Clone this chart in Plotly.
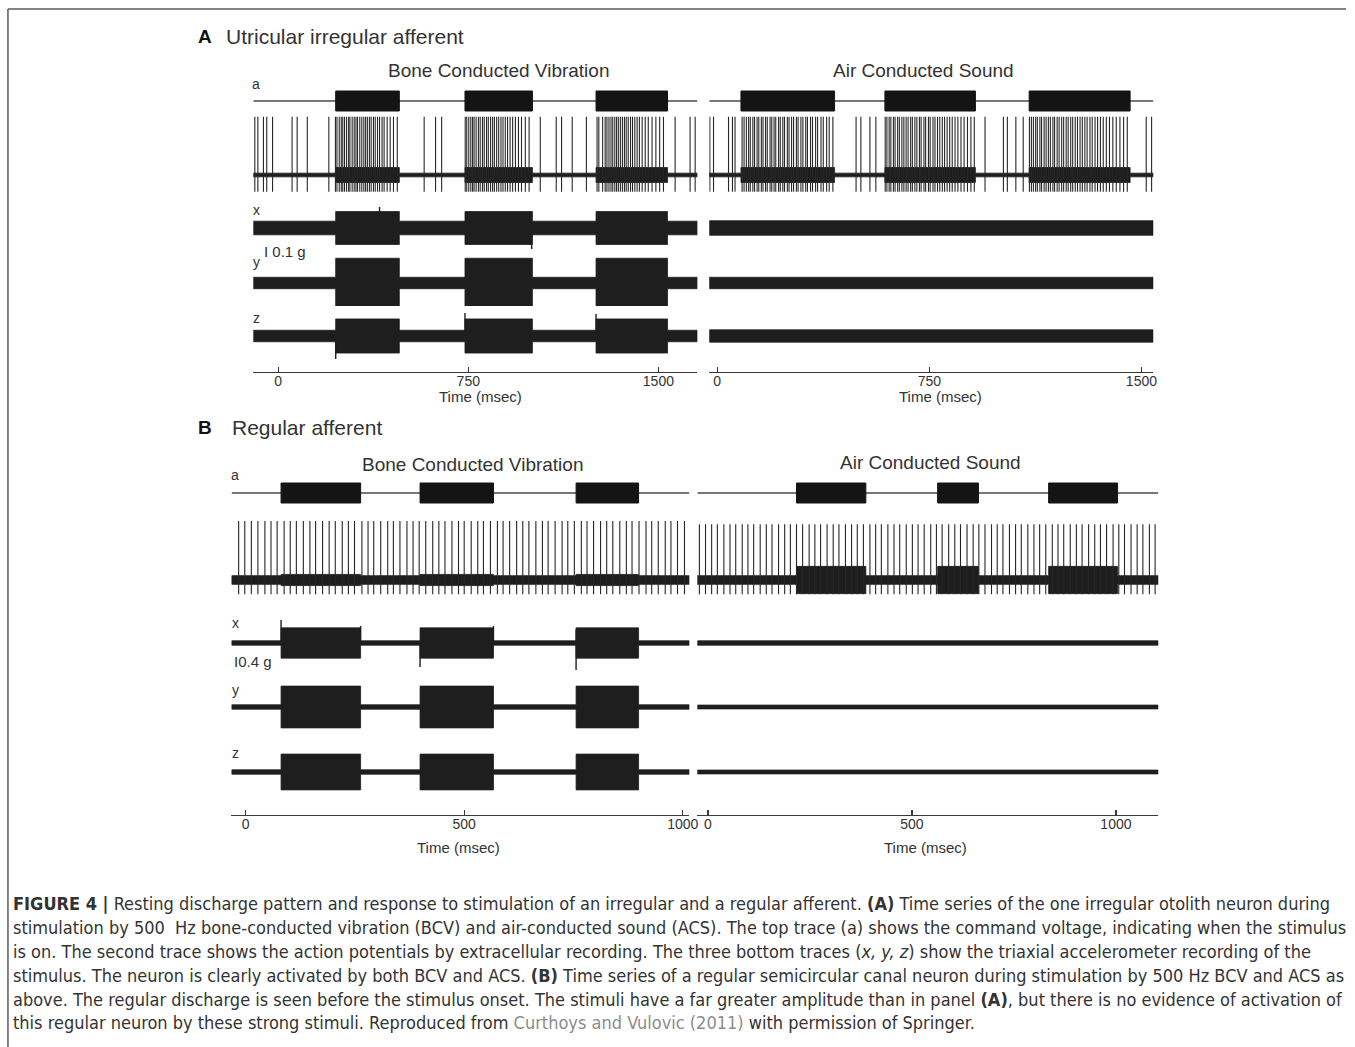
import plotly.graph_objects as go

W, H = 1355, 1047

# ------------------------------------------------------------------ data
# recording windows (ms) shown in each panel
A_BCV_WINDOW = (-98, 1654)
A_ACS_WINDOW = (-28, 1542)
B_BCV_WINDOW = (-32, 1015)
B_ACS_WINDOW = (-26, 1104)

# stimulus on/off times (ms) from the command trace (a)
A_BCV_STIM = [(227, 478), (737, 1003), (1254, 1536)]
A_ACS_STIM = [(84, 415), (593, 913), (1103, 1460)]
B_BCV_STIM = [(81, 263), (399, 567), (756, 899)]
B_ACS_STIM = [(217, 387), (563, 663), (835, 1004)]

# spike times (ms)
A_BCV_SPIKES = [-92, -80, -58, -45, -22, 55, 75, 115, 200,
                226, 232, 241, 249, 255, 262, 270, 278, 283, 292, 300, 307, 313, 322, 330,
                338, 345, 352, 360, 367, 376, 383, 392, 400, 410, 418, 430, 442, 455, 470,
                576, 621, 645,
                738, 744, 752, 760, 767, 773, 781, 790, 797, 806, 813, 822, 829, 838, 846,
                853, 862, 870, 879, 887, 896, 905, 915, 925, 936, 948, 960, 975, 990,
                1034, 1097, 1118, 1160, 1216,
                1258, 1265, 1280, 1290, 1297, 1305, 1313, 1320, 1328, 1335, 1342, 1350,
                1358, 1366, 1373, 1381, 1390, 1398, 1407, 1416, 1425, 1436, 1448, 1460,
                1475, 1490, 1505, 1520,
                1566, 1625, 1645]
A_ACS_SPIKES = [-26, -13, 40, 54, 63,
                88, 95, 103, 111, 117, 126, 132, 141, 147, 156, 162, 171, 177, 187, 193,
                201, 207, 217, 223, 232, 238, 248, 254, 263, 270, 280, 286, 296, 303, 313,
                319, 330, 337, 348, 355, 367, 375, 387, 396, 409,
                491, 508, 540, 561,
                594, 600, 608, 614, 623, 629, 638, 644, 653, 660, 668, 675, 684, 690, 699,
                706, 715, 721, 731, 737, 747, 753, 763, 770, 779, 787, 796, 804, 813, 822,
                831, 841, 851, 862, 873, 885, 897, 909,
                947, 1012, 1026, 1056, 1082,
                1104, 1111, 1118, 1126, 1132, 1141, 1147, 1156, 1163, 1171, 1178, 1187,
                1193, 1202, 1209, 1218, 1225, 1234, 1241, 1250, 1257, 1266, 1274, 1283,
                1291, 1300, 1308, 1318, 1326, 1336, 1345, 1355, 1365, 1376, 1387, 1399,
                1411, 1424, 1437, 1450,
                1517, 1536]
B_BCV_SPIKES = [-16, -2, 13, 28, 44, 58, 72, 88, 102, 116, 132, 147, 160, 176, 191, 205,
                221, 235, 249, 266, 280, 293, 309, 325, 338, 353, 369, 383, 397, 412, 428,
                442, 456, 472, 487, 500, 516, 531, 544, 560, 576, 589, 604, 620, 634, 648,
                664, 679, 692, 708, 724, 737, 752, 768, 781, 796, 812, 826, 840, 856, 871,
                884, 900, 916, 929, 944, 960, 973, 988, 1004]
B_ACS_SPIKES = [-21, -6, 9, 23, 39, 54, 68, 84, 98, 112, 128, 143, 157, 173, 188, 202,
                217, 232, 248, 262, 276, 292, 307, 321, 337, 352, 366, 381, 397, 411, 425,
                441, 456, 470, 486, 501, 515, 530, 546, 560, 574, 590, 605, 619, 635, 650,
                664, 679, 695, 709, 723, 739, 754, 768, 784, 799, 813, 828, 844, 858, 872,
                888, 903, 917, 933, 948, 962, 977, 993, 1007, 1021, 1037, 1052, 1066, 1082,
                1096]

# extracellular noise half-width (recording units), off / on stimulus
A_BCV_NOISE = (0.03, 0.12)
A_ACS_NOISE = (0.03, 0.12)
B_BCV_NOISE = (0.07, 0.09)
B_ACS_NOISE = (0.07, 0.22)

# accelerometer half-amplitude (g) for x, y, z
A_BCV_ACC_OFF = [0.062, 0.052, 0.052]
A_BCV_ACC_ON = [0.150, 0.225, 0.155]
A_ACS_ACC_OFF = [0.066, 0.052, 0.056]
A_ACS_ACC_ON = [0.066, 0.052, 0.056]
B_BCV_ACC_OFF = [0.08, 0.08, 0.08]
B_BCV_ACC_ON = [0.55, 0.76, 0.65]
B_ACS_ACC_OFF = [0.08, 0.07, 0.07]
B_ACS_ACC_ON = [0.08, 0.07, 0.07]

# accelerometer onset/offset transients (ms, g) per axis x, y, z
A_BCV_TRANSIENTS = [[(400, 0.19), (1000, -0.19)], [], [(227, -0.21), (737, 0.21), (1254, 0.20)]]
B_BCV_TRANSIENTS = [[(81, 0.84), (263, 0.62), (399, -0.87), (567, 0.62), (756, -0.98), (756, 0.5)],
                    [], []]
NO_TRANSIENTS = [[], [], []]

TICKS_A = [0, 750, 1500]
TICKS_B = [0, 500, 1000]
ROW_LABELS = ["a", "x", "y", "z"]

# ------------------------------------------------------------------ layout helpers
INK = "#1e1e1e"
TXT = "#333333"
FONT = "Liberation Sans, Arial, sans-serif"
CAPFONT = "DejaVu Sans Condensed, Liberation Sans Narrow, sans-serif"


def fx(p):
    return p / W


def fy(p):
    return 1 - p / H


panels = [
    dict(xpx=(255, 702), zero=280.0, pxms=0.2552, win=A_BCV_WINDOW, stim=A_BCV_STIM,
         spikes=A_BCV_SPIKES, noise=A_BCV_NOISE, off=A_BCV_ACC_OFF, on=A_BCV_ACC_ON,
         trans=A_BCV_TRANSIENTS,
         rows=[101, 175, 228, 283, 336], axis=372, ticks=TICKS_A, gpx=110.0,
         spk=(0.94, -0.27), title="Bone Conducted Vibration", tx=502, ty=71,
         ttl_ms=799, ttl_y=396, lab_x=258, lab_y=[84, 210, 262, 318]),
    dict(xpx=(714, 1161), zero=722.0, pxms=0.2847, win=A_ACS_WINDOW, stim=A_ACS_STIM,
         spikes=A_ACS_SPIKES, noise=A_ACS_NOISE, off=A_ACS_ACC_OFF, on=A_ACS_ACC_ON,
         trans=NO_TRANSIENTS,
         rows=[101, 175, 228, 283, 336], axis=372, ticks=TICKS_A, gpx=110.0,
         spk=(0.94, -0.27), title="Air Conducted Sound", tx=930, ty=71,
         ttl_ms=789, ttl_y=396, lab_x=None, lab_y=None),
    dict(xpx=(233, 694), zero=247.3, pxms=0.44, win=B_BCV_WINDOW, stim=B_BCV_STIM,
         spikes=B_BCV_SPIKES, noise=B_BCV_NOISE, off=B_BCV_ACC_OFF, on=B_BCV_ACC_ON,
         trans=B_BCV_TRANSIENTS,
         rows=[493, 580, 643, 707, 772], axis=815, ticks=TICKS_B, gpx=27.5,
         spk=(0.95, -0.23), title="Bone Conducted Vibration", tx=476, ty=464,
         ttl_ms=488, ttl_y=847, lab_x=237, lab_y=[475, 623, 690, 753]),
    dict(xpx=(702, 1166), zero=712.7, pxms=0.4107, win=B_ACS_WINDOW, stim=B_ACS_STIM,
         spikes=B_ACS_SPIKES, noise=B_ACS_NOISE, off=B_ACS_ACC_OFF, on=B_ACS_ACC_ON,
         trans=NO_TRANSIENTS,
         rows=[493, 580, 643, 707, 772], axis=815, ticks=TICKS_B, gpx=27.5,
         spk=(0.90, -0.23), title="Air Conducted Sound", tx=937, ty=463,
         ttl_ms=533, ttl_y=847, lab_x=None, lab_y=None),
]

CMD_HALF = 12.0     # px half height of command row
SPK_HALF = 62.0     # px half height of spike row
ACC_HALF = 30.0     # px half height of accelerometer rows


def band(t0, t1, stim, off, on):
    xs, ys = [t0], [off]
    for a, b in stim:
        xs += [a, a, b, b]
        ys += [off, on, on, off]
    xs.append(t1)
    ys.append(off)
    X = xs + xs[::-1] + [xs[0]]
    Y = ys + [-v for v in ys[::-1]] + [ys[0]]
    return X, Y


fig = go.Figure()
layout = dict()
annotations = []
yk = 0

for i, p in enumerate(panels):
    xid = "x" if i == 0 else f"x{i + 1}"
    xkey = "xaxis" if i == 0 else f"xaxis{i + 1}"
    x0px, x1px = p["xpx"]
    t0, t1 = p["win"]
    layout[xkey] = dict(
        domain=[fx(x0px), fx(x1px)],
        range=[(x0px - p["zero"]) / p["pxms"], (x1px - p["zero"]) / p["pxms"]],
        anchor="free", position=fy(p["axis"]),
        showline=True, linecolor="#3a3a3a", linewidth=1.3,
        ticks="inside", ticklen=5, tickwidth=1.2, tickcolor="#3a3a3a",
        tickvals=p["ticks"], ticktext=[str(t) for t in p["ticks"]],
        tickfont=dict(family=FONT, size=14, color=TXT), ticklabelstandoff=-4,
        showgrid=False, zeroline=False, fixedrange=True,
    )
    annotations.append(dict(text="Time (msec)", x=p["ttl_ms"], xref=xid, y=fy(p["ttl_y"]),
                            yref="paper", showarrow=False, xanchor="center",
                            yanchor="middle", font=dict(family=FONT, size=15, color=TXT)))
    annotations.append(dict(text=p["title"], x=fx(p["tx"]), y=fy(p["ty"]), xref="paper",
                            yref="paper", showarrow=False, xanchor="center",
                            yanchor="middle", font=dict(family=FONT, size=19, color=TXT)))

    for r, base in enumerate(p["rows"]):
        yk += 1
        yid = "y" if yk == 1 else f"y{yk}"
        ykey = "yaxis" if yk == 1 else f"yaxis{yk}"
        if r == 0:
            half, unit = CMD_HALF, 10.0
        elif r == 1:
            half, unit = SPK_HALF, SPK_HALF
        else:
            half, unit = ACC_HALF, p["gpx"]
        layout[ykey] = dict(domain=[fy(base + half), fy(base - half)],
                            range=[-half / unit, half / unit], anchor=xid,
                            visible=False, fixedrange=True)

        if r == 0:
            fig.add_trace(go.Scatter(x=[t0, t1], y=[0, 0], mode="lines",
                                     line=dict(color="#4a4a4a", width=1.4),
                                     xaxis=xid, yaxis=yid, hoverinfo="skip"))
            bx, by = [], []
            for a, b in p["stim"]:
                bx += [a, a, b, b, a, None]
                by += [-1, 1, 1, -1, -1, None]
            fig.add_trace(go.Scatter(x=bx, y=by, mode="lines", fill="toself",
                                     fillcolor="#141414", line=dict(color="#141414", width=1),
                                     xaxis=xid, yaxis=yid, hoverinfo="skip"))
        elif r == 1:
            X, Y = band(t0, t1, p["stim"], p["noise"][0], p["noise"][1])
            fig.add_trace(go.Scatter(x=X, y=Y, mode="lines", fill="toself",
                                     fillcolor=INK, line=dict(color=INK, width=0.8),
                                     xaxis=xid, yaxis=yid, hoverinfo="skip"))
            sx, sy = [], []
            up, down = p["spk"]
            for t in p["spikes"]:
                sx += [t, t, None]
                sy += [down, up, None]
            fig.add_trace(go.Scatter(x=sx, y=sy, mode="lines",
                                     line=dict(color="#262626", width=1.1),
                                     xaxis=xid, yaxis=yid, hoverinfo="skip"))
        else:
            k = r - 2
            X, Y = band(t0, t1, p["stim"], p["off"][k], p["on"][k])
            fig.add_trace(go.Scatter(x=X, y=Y, mode="lines", fill="toself",
                                     fillcolor=INK, line=dict(color=INK, width=0.8),
                                     xaxis=xid, yaxis=yid, hoverinfo="skip"))
            tr = p["trans"][k]
            if tr:
                tx_, ty_ = [], []
                for t, a in tr:
                    tx_ += [t, t, None]
                    ty_ += [0, a, None]
                fig.add_trace(go.Scatter(x=tx_, y=ty_, mode="lines",
                                         line=dict(color=INK, width=1.4),
                                         xaxis=xid, yaxis=yid, hoverinfo="skip"))

    if p["lab_x"] is not None:
        for lab, ly in zip(ROW_LABELS, p["lab_y"]):
            annotations.append(dict(text=lab, x=fx(p["lab_x"]), y=fy(ly), xref="paper",
                                    yref="paper", showarrow=False, xanchor="center",
                                    yanchor="middle",
                                    font=dict(family=FONT, size=14, color=TXT)))

# scale bars
annotations.append(dict(text="I 0.1 g", x=fx(264), y=fy(251), xref="paper", yref="paper",
                        showarrow=False, xanchor="left", yanchor="middle",
                        font=dict(family=FONT, size=15, color=TXT)))
annotations.append(dict(text="I0.4 g", x=fx(234), y=fy(661), xref="paper", yref="paper",
                        showarrow=False, xanchor="left", yanchor="middle",
                        font=dict(family=FONT, size=15, color=TXT)))

# panel headings
for lab, txt, lx, tx, ty in [("A", "Utricular irregular afferent", 197, 226, 37),
                             ("B", "Regular afferent", 197, 232, 428)]:
    annotations.append(dict(text=f"<b>{lab}</b>", x=fx(lx), y=fy(ty), xref="paper",
                            yref="paper", showarrow=False, xanchor="left", yanchor="middle",
                            font=dict(family=FONT, size=19, color="#111")))
    annotations.append(dict(text=txt, x=fx(tx), y=fy(ty), xref="paper", yref="paper",
                            showarrow=False, xanchor="left", yanchor="middle",
                            font=dict(family=FONT, size=21, color=TXT)))

# caption
CAPTION = [
    "<b>FIGURE 4 |</b> Resting discharge pattern and response to stimulation of an irregular and a regular afferent. <b>(A)</b> Time series of the one irregular otolith neuron during",
    "stimulation by 500\u00a0 Hz bone-conducted vibration (BCV) and air-conducted sound (ACS). The top trace (a) shows the command voltage, indicating when the stimulus",
    "is on. The second trace shows the action potentials by extracellular recording. The three bottom traces (<i>x, y, z</i>) show the triaxial accelerometer recording of the",
    "stimulus. The neuron is clearly activated by both BCV and ACS. <b>(B)</b> Time series of a regular semicircular canal neuron during stimulation by 500 Hz BCV and ACS as",
    "above. The regular discharge is seen before the stimulus onset. The stimuli have a far greater amplitude than in panel <b>(A)</b>, but there is no evidence of activation of",
    "this regular neuron by these strong stimuli. Reproduced from <span style='color:#8c8c8c'>Curthoys and Vulovic (2011)</span> with permission of Springer.",
]
CAP_Y = [903, 927, 951, 975, 999, 1022]
for line, cy in zip(CAPTION, CAP_Y):
    annotations.append(dict(text=line, x=fx(11), y=fy(cy), xref="paper", yref="paper",
                            showarrow=False, xanchor="left", yanchor="middle",
                            font=dict(family=CAPFONT, size=18, color=TXT)))

shapes = [
    dict(type="line", xref="paper", yref="paper", x0=fx(8), x1=1.0, y0=fy(9), y1=fy(9),
         line=dict(color="#5a5a5a", width=1.5)),
    dict(type="line", xref="paper", yref="paper", x0=fx(8), x1=fx(8), y0=fy(9), y1=0.0,
         line=dict(color="#5a5a5a", width=1.5)),
]

fig.update_layout(**layout)
fig.update_layout(width=W, height=H, margin=dict(l=0, r=0, t=0, b=0),
                  paper_bgcolor="white", plot_bgcolor="white", showlegend=False,
                  annotations=annotations, shapes=shapes)
fig.write_html("out.html", config={"displayModeBar": False, "staticPlot": True},
               post_script="document.body.style.margin='0';document.body.style.padding='0';"
                           "document.documentElement.style.overflow='hidden';")
